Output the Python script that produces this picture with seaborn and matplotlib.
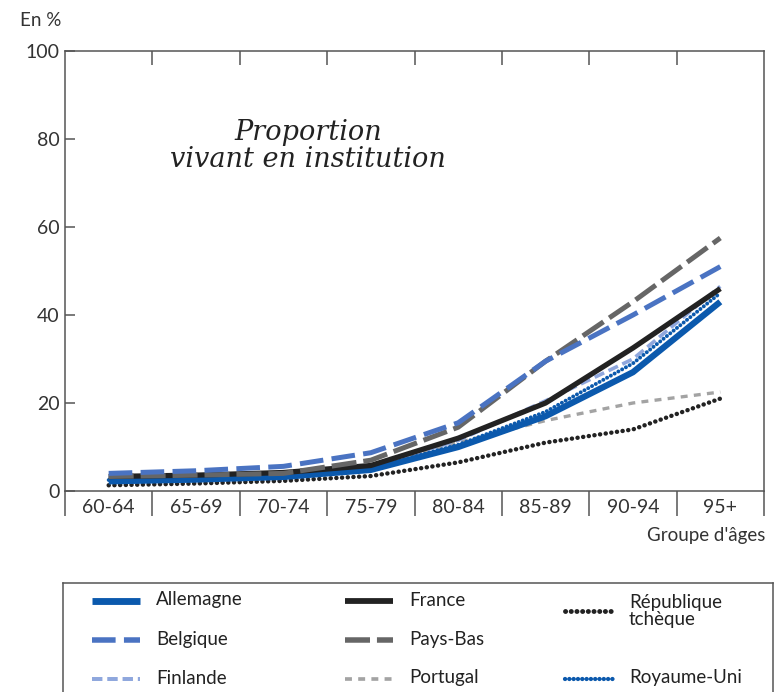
import numpy as np
import pandas as pd
import matplotlib
matplotlib.use("Agg")
import matplotlib.pyplot as plt
import seaborn as sns

# Data (percent living in an institution)
age_groups = ["60-64", "65-69", "70-74", "75-79", "80-84", "85-89", "90-94", "95+"]
allemagne = [2.2, 2.6, 3.2, 4.8, 10.0, 17.0, 27.0, 43.0]
belgique = [4.0, 4.6, 5.6, 8.7, 15.5, 29.5, 40.0, 51.0]
finlande = [3.0, 3.3, 3.8, 5.5, 11.5, 20.5, 30.0, 46.5]
france = [3.3, 3.6, 4.2, 5.8, 12.0, 20.0, 32.5, 46.0]
pays_bas = [3.3, 3.6, 4.0, 7.0, 14.5, 29.5, 43.0, 57.5]
portugal = [2.8, 3.0, 3.6, 5.6, 11.0, 16.0, 20.0, 22.5]
rep_tcheque = [1.3, 1.7, 2.3, 3.4, 6.5, 11.0, 14.0, 21.0]
royaume_uni = [2.5, 2.9, 3.5, 5.1, 10.5, 18.0, 29.0, 45.0]

series = {
    "Allemagne": allemagne,
    "Belgique": belgique,
    "Finlande": finlande,
    "France": france,
    "Pays-Bas": pays_bas,
    "Portugal": portugal,
    "République\ntchèque": rep_tcheque,
    "Royaume-Uni": royaume_uni,
}

# Line styles (dash patterns in points, not scaled by width)
styles = {
    "Allemagne": dict(color="#0b59ad", lw=4.5, ls="-"),
    "Belgique": dict(color="#4a73c2", lw=3.6, ls=(0, (17, 6))),
    "Finlande": dict(color="#8fa7dd", lw=2.6, ls=(0, (7.5, 3.5))),
    "France": dict(color="#222222", lw=3.8, ls="-"),
    "Pays-Bas": dict(color="#666666", lw=3.6, ls=(0, (18, 5))),
    "Portugal": dict(color="#a3a3a3", lw=2.4, ls=(0, (5, 4.5))),
    "République\ntchèque": dict(color="#222222", lw=3.2, ls=(0, (0.1, 4.0))),
    "Royaume-Uni": dict(color="#0b59ad", lw=2.8, ls=(0, (0.1, 3.0))),
}

# Legend layout: column, row
legend_pos = {
    "Allemagne": (0, 0), "Belgique": (0, 1), "Finlande": (0, 2),
    "France": (1, 0), "Pays-Bas": (1, 1), "Portugal": (1, 2),
    "République\ntchèque": (2, 0.25), "Royaume-Uni": (2, 2),
}


def build_frame():
    rows = []
    for name, vals in series.items():
        for age, v in zip(age_groups, vals):
            rows.append({"pays": name, "age": age, "pct": v})
    return pd.DataFrame(rows)


def main():
    sns.set_style("white")
    plt.rcParams["font.family"] = ["Lato", "DejaVu Sans"]
    plt.rcParams["lines.scale_dashes"] = False

    W, H = 776, 692
    fig = plt.figure(figsize=(W / 100, H / 100), dpi=100)
    ax = fig.add_axes([65 / W, (H - 491) / H, (764 - 65) / W, (491 - 51) / H])

    df = build_frame()
    order = ["République\ntchèque", "Portugal", "Finlande", "Royaume-Uni",
             "Allemagne", "France", "Pays-Bas", "Belgique"]
    for name in order:
        st = styles[name]
        sub = df[df["pays"] == name]
        dotted = "tch" in name or "Roy" in name
        sns.lineplot(data=sub, x="age", y="pct", ax=ax, color=st["color"],
                     linewidth=st["lw"], linestyle=st["ls"], legend=False,
                     sort=False, dash_capstyle="round" if dotted else "butt",
                     solid_capstyle="butt")

    spine_col = "#555555"
    ax.set_xlim(-0.5, len(age_groups) - 0.5)
    ax.set_ylim(0, 100)
    for s in ax.spines.values():
        s.set_color(spine_col)
        s.set_linewidth(1.1)

    ax.set_yticks([0, 20, 40, 60, 80, 100])
    ax.tick_params(axis="y", direction="in", length=7, width=1.1, color=spine_col,
                   labelsize=14, labelcolor="#333333", pad=4, left=True)
    ax.set_xticks(range(len(age_groups)))
    ax.set_xticklabels(age_groups)
    ax.set_xticks(np.arange(len(age_groups) + 1) - 0.5, minor=True)
    ax.tick_params(axis="x", which="major", length=0, labelsize=14,
                   labelcolor="#333333", pad=6)
    ax.tick_params(axis="x", which="minor", direction="out", length=18, width=1.1,
                   color=spine_col, bottom=True, top=False)
    ax.set_xlabel("")
    ax.set_ylabel("")

    # inward separators on the top edge
    sec = ax.secondary_xaxis("top")
    sec.set_xticks(np.arange(1, len(age_groups)) - 0.5)
    sec.tick_params(direction="in", length=10, width=1.1, color=spine_col, labeltop=False)
    sec.spines["top"].set_visible(False)

    ax.text(0.348, 0.785, "Proportion\nvivant en institution", transform=ax.transAxes,
            ha="center", va="center", fontsize=19.5, style="italic",
            family=["DejaVu Serif"], color="#222222", linespacing=1.0)

    fig.text(20 / W, 1 - 20 / H, "En %", ha="left", va="center", fontsize=13.5,
             color="#333333")
    fig.text(765 / W, 1 - 535 / H, "Groupe d'âges", ha="right", va="center",
             fontsize=13.5, color="#333333")

    # Legend box (bottom edge falls outside the picture)
    lax = fig.add_axes([63 / W, -10 / H, (773 - 63) / W, (H - 583 + 10) / H])
    lax.set_xlim(63, 773)
    lax.set_ylim(H + 10, 583)
    lax.set_xticks([])
    lax.set_yticks([])
    for s in lax.spines.values():
        s.set_color(spine_col)
        s.set_linewidth(1.1)
    lax.spines["bottom"].set_visible(False)

    col_x = [92, 345, 565]
    row_y = [601, 640, 679]
    for name, (c, r) in legend_pos.items():
        st = styles[name]
        x0 = col_x[c]
        y = row_y[0] + (row_y[1] - row_y[0]) * r
        dotted = "tch" in name or "Roy" in name
        lax.plot([x0, x0 + 48], [y, y], color=st["color"], linewidth=st["lw"] * 1.1,
                 linestyle=st["ls"], dash_capstyle="round" if dotted else "butt",
                 solid_capstyle="butt")
        ty = row_y[0] + 10 if "tch" in name else y - 1
        lax.text(x0 + 64, ty, name, ha="left", va="center", fontsize=13.5,
                 color="#222222", linespacing=0.95)

    fig.savefig("out.png", dpi=100)


if __name__ == "__main__":
    main()
